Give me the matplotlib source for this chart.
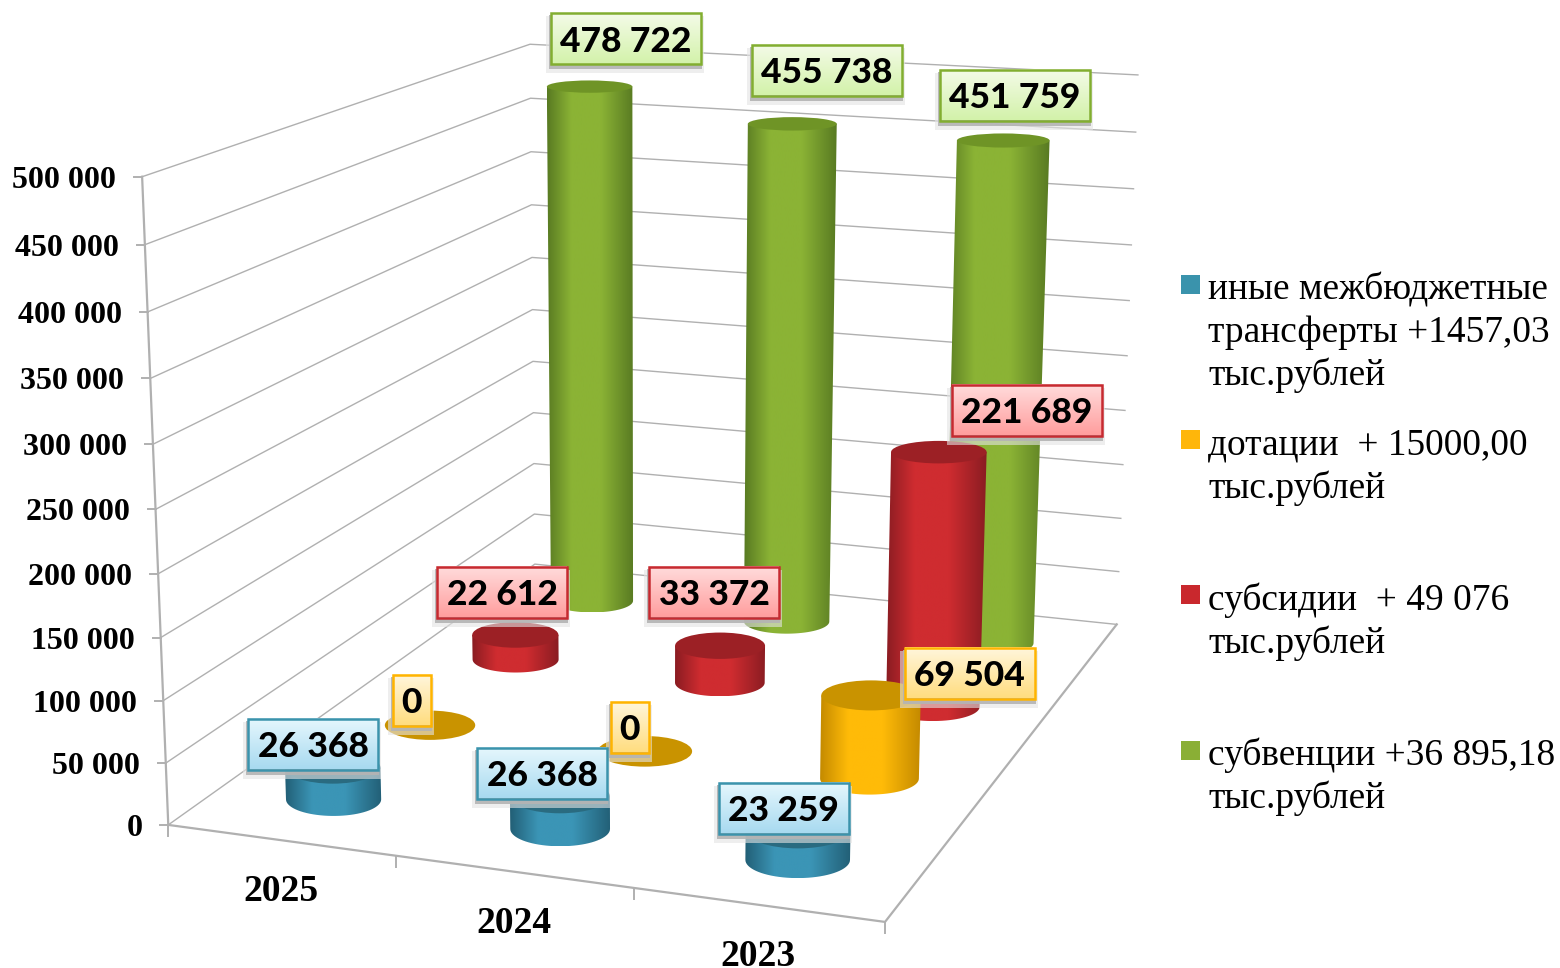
import numpy as np
import matplotlib
matplotlib.use("Agg")
import matplotlib.pyplot as plt
from matplotlib.colors import LinearSegmentedColormap
from matplotlib.patches import PathPatch, Rectangle, Ellipse
from matplotlib.path import Path

# Values
years = ["2025", "2024", "2023"]
inye = [26368, 26368, 23259]
dotacii = [0, 0, 69504]
subsidii = [22612, 33372, 221689]
subvencii = [478722, 455738, 451759]
axis_ticks = [0, 50000, 100000, 150000, 200000, 250000, 300000, 350000, 400000, 450000, 500000]
legend_labels = [
    ["иные межбюджетные", "трансферты +1457,03", "тыс.рублей"],
    ["дотации  + 15000,00", "тыс.рублей"],
    ["субсидии  + 49 076", "тыс.рублей"],
    ["субвенции +36 895,18", "тыс.рублей"],
]

# Styles, front row first
series = [inye, dotacii, subsidii, subvencii]
edge_col = ["#225f76", "#c48a00", "#8a1c22", "#587a22"]
mid_col = ["#3b95b6", "#ffbb08", "#cf2c30", "#8bb335"]
top_col = ["#2a6b80", "#c99300", "#9c2025", "#6f9426"]
legend_col = ["#3a93ac", "#ffb60a", "#c9282d", "#8aaf35"]
box_edge = ["#3b93ac", "#ffb400", "#c62a30", "#82ae30"]
box_top = ["#e6f7fd", "#fff6dc", "#ffdcdc", "#f4fbe8"]
box_bot = ["#a8daf0", "#ffdd80", "#ff9e9e", "#d3f2aa"]

# Label box centres in pixels, [series][year]
label_pos = [
    [(313, 744), (542, 773), (783.5, 808)],
    [(412, 700), (630, 727), (969.5, 673)],
    [(502, 592), (714, 592), (1027, 410)],
    [(626, 38.5), (827, 70), (1014.5, 95)],
]

# Camera: fit a projection from box corners (x: years, d: depth, z: value/500000) to pixels
anchors = [
    (0, 0, 0, 168, 824), (3, 0, 0, 886, 922), (3, 4, 0, 1116, 625), (0, 4, 0, 535, 565),
    (0, 0, 1, 142, 178), (0, 4, 1, 530, 44), (3, 4, 1, 1138, 75),
    (0, 0, 0.5, 155, 509), (0, 4, 0.5, 533, 309), (3, 4, 0.5, 1127, 355),
]
rows = []
for x, d, z, px, py in anchors:
    px, py = px / 1000, py / 1000
    rows.append([x, d, z, 1, 0, 0, 0, 0, -px * x, -px * d, -px * z, -px])
    rows.append([0, 0, 0, 0, x, d, z, 1, -py * x, -py * d, -py * z, -py])
cam = np.linalg.svd(np.array(rows))[2][-1].reshape(3, 4)


def proj(x, d, z):
    p = cam @ np.array([x, d, z / 500000, 1.0])
    return p[0] / p[2] * 1000, p[1] / p[2] * 1000


plt.rcParams["font.family"] = ["Liberation Serif", "DejaVu Serif"]
fig = plt.figure(figsize=(15.6, 9.68), dpi=100)
ax = fig.add_axes([0, 0, 1, 1])
ax.axis("off")

grid = "#b0b0b0"
# Walls
for v in axis_ticks:
    pts = [proj(0, 0, v), proj(0, 4, v), proj(3, 4, v)]
    ax.plot([p[0] for p in pts], [p[1] for p in pts], color=grid, lw=1.0, zorder=1)
    x0, y0 = pts[0]
    ax.plot([x0 - 8, x0], [y0, y0], color=grid, lw=1.4, zorder=1)
    lab = f"{v:,}".replace(",", " ")
    ax.text(x0 - 26, y0, lab, ha="right", va="center_baseline", fontsize=23, fontweight="bold", color="black")

# Axis and floor lines
a, b = proj(0, 0, 0), proj(0, 0, 500000)
ax.plot([a[0], b[0]], [a[1], b[1]], color=grid, lw=1.6, zorder=1)
pts = [proj(0, 0, 0), proj(3, 0, 0), proj(3, 4, 0)]
ax.plot([p[0] for p in pts], [p[1] for p in pts], color=grid, lw=1.6, zorder=1)
for i in range(4):
    tx, ty = proj(i, 0, 0)
    ax.plot([tx, tx], [ty, ty + 11], color=grid, lw=1.4, zorder=1)
for i, yr in enumerate(years):
    tx, ty = proj(i + 0.5, 0, 0)
    ax.text(tx, ty + 47.5, yr, ha="center", va="center_baseline", fontsize=27, fontweight="bold", color="black")


def half_axes(x, d, z):
    # horizontal ellipse sized from how far the floor circle spreads on screen
    xa, _ = proj(x - 0.215, d, z)
    xb, _ = proj(x + 0.215, d, z)
    _, ya = proj(x, d - 0.21, z)
    _, yb = proj(x, d + 0.21, z)
    return abs(xb - xa) / 2, abs(ya - yb) / 2


# Cylinders from back to front
zo = 2
for s in range(3, -1, -1):
    shade = [(0, edge_col[s]), (0.28, mid_col[s]), (0.62, mid_col[s]), (1, edge_col[s])]
    cmap = LinearSegmentedColormap.from_list("c", shade, N=256)
    for i, v in enumerate(series[s]):
        x, d = i + 0.5, s + 0.5
        bx, by = proj(x, d, 0)
        tx, ty = proj(x, d, v)
        bw, bh = half_axes(x, d, 0)
        tw, th = half_axes(x, d, v)
        if v > 0:
            t = np.linspace(np.pi, 0, 40)
            # left side down, around the bottom, right side up, back over the top
            verts = [(tx - tw, ty)]
            verts += [(bx + bw * np.cos(a), by + bh * np.sin(a)) for a in t]
            verts += [(tx + tw, ty), (tx - tw, ty), (tx - tw, ty)]
            codes = [Path.MOVETO] + [Path.LINETO] * (len(verts) - 2) + [Path.CLOSEPOLY]
            clip = PathPatch(Path(verts, codes), transform=ax.transData, fc="none", ec="none")
            ax.add_patch(clip)
            x0, x1 = min(tx - tw, bx - bw), max(tx + tw, bx + bw)
            im = ax.imshow(np.linspace(0, 1, 256)[None, :], cmap=cmap, extent=(x0, x1, by + bh, ty - th),
                           aspect="auto", interpolation="bilinear", zorder=zo)
            im.set_clip_path(clip)
        ax.add_patch(Ellipse((tx, ty), 2 * tw, 2 * th, fc=top_col[s], ec="none", zorder=zo + 0.5))
        zo += 1

# Value labels
grad = np.linspace(0, 1, 64)[:, None]
for s in range(4):
    cmap = LinearSegmentedColormap.from_list("b", [box_top[s], box_bot[s]])
    for i, v in enumerate(series[s]):
        lab = f"{v:,}".replace(",", " ")
        cx, cy = label_pos[s][i]
        w = 38 if v == 0 else 130 if v < 100000 else 150
        h = 51
        ax.add_patch(Rectangle((cx - w / 2 - 5, cy - h / 2 + 3), w + 8, h + 6, fc="#e4e4e4", ec="none", alpha=0.6, zorder=50))
        ax.add_patch(Rectangle((cx - w / 2 - 2, cy - h / 2 + 2), w + 3, h + 3, fc="#b4b4b4", ec="none", alpha=0.9, zorder=50))
        ax.imshow(grad, cmap=cmap, extent=(cx - w / 2, cx + w / 2, cy + h / 2, cy - h / 2),
                  aspect="auto", interpolation="bilinear", zorder=51)
        ax.add_patch(Rectangle((cx - w / 2, cy - h / 2), w, h, fc="none", ec=box_edge[s], lw=1.8, zorder=52))
        ax.text(cx, cy, lab, ha="center", va="center_baseline", fontsize=25.5, fontweight=900,
                family=["Lato", "DejaVu Sans"], color="black", zorder=53)

# Legend, top entry is the front row
for n, lines in enumerate(legend_labels):
    y = 284.5 + 155.2 * n
    ax.add_patch(Rectangle((1181, y - 9.5), 19, 19, fc=legend_col[n], ec="none"))
    for k, line in enumerate(lines):
        ax.text(1208, y + 1.5 + 42.7 * k, line, ha="left", va="center_baseline", fontsize=26.9, color="black")

ax.set_xlim(0, 1560)
ax.set_ylim(968, 0)
fig.savefig("out.png", dpi=100)
